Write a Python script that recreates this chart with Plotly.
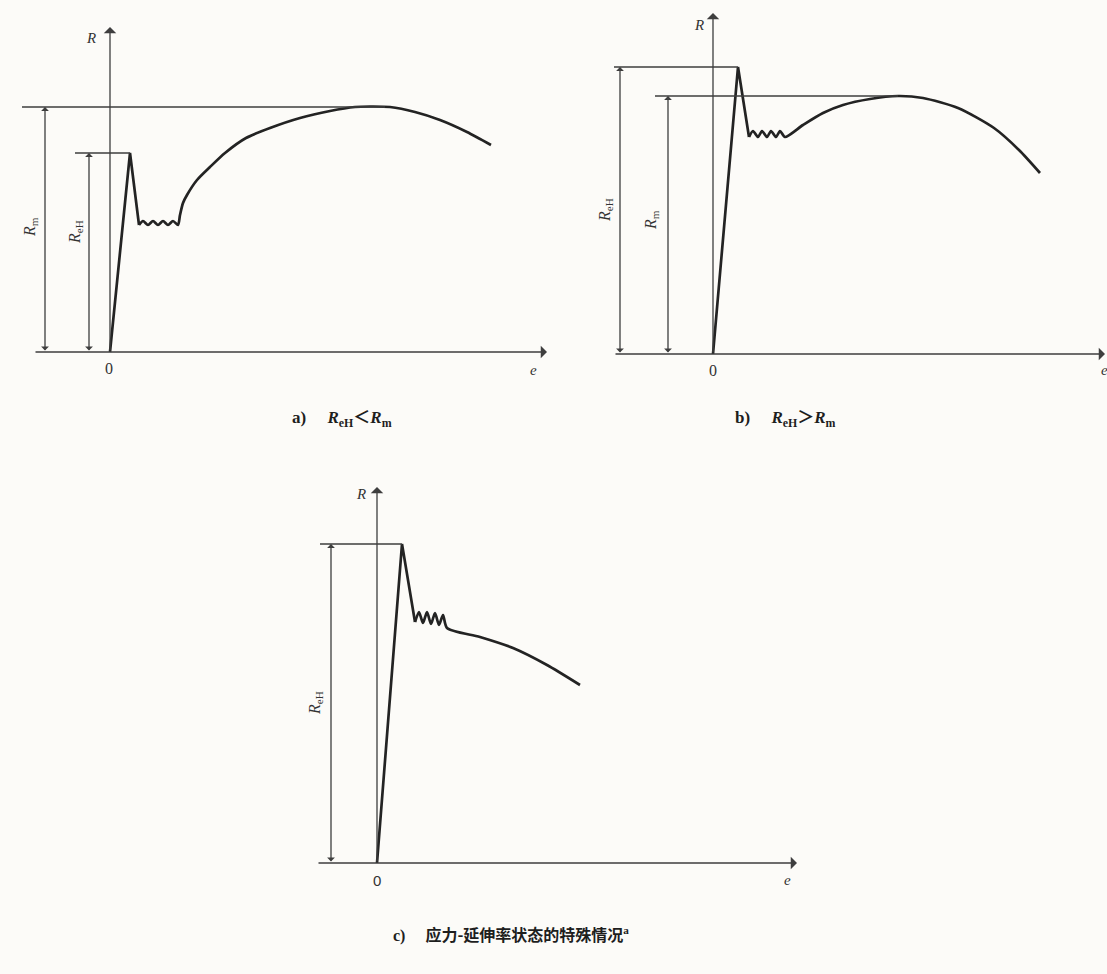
import plotly.graph_objects as go

W, H = 1107, 974
LINE = "#3e3e3e"
CURVE = "#232323"
SERIF = "Liberation Serif, Times New Roman, serif"
CJK = "Noto Sans CJK SC, sans-serif"

# ---------------- data: strain e vs. stress R (schematic units) ----------------
# a) R_eH < R_m : upper yield point, yield plateau, work hardening to R_m
a_e = [0, 20, 29, 33, 38, 43, 48, 53, 58, 63, 68, 70, 73, 77, 87, 100, 115, 136,
       160, 190, 220, 245, 260, 280, 305, 330, 357, 381]
a_R = [0, 199, 127, 131, 127, 131, 127, 131, 127, 131, 127, 137, 149, 157, 172, 185,
       199, 214, 224, 234, 241, 245, 245.5, 245, 240, 232, 220, 207]
a_ReH, a_Rm = 199, 245

# b) R_eH > R_m
b_e = [0, 25, 36, 40, 45, 49, 54, 58, 63, 67, 72, 90, 110, 130, 157, 185, 210,
       245, 281, 306, 327]
b_R = [0, 287, 217, 223, 217, 223, 217, 223, 217, 223, 217, 229, 241, 249, 255,
       258, 256, 246, 226, 204, 181]
b_ReH, b_Rm = 287, 258

# c) special case: no work-hardening maximum
c_e = [0, 25, 38, 42, 46, 50, 54, 58, 62, 66, 70, 103, 136, 170, 203]
c_R = [0, 319, 241, 251, 240, 251, 239, 250, 238, 248, 235, 226, 215, 198, 178]
c_ReH = 319

N_ELASTIC = 3  # loading line + drop after upper yield point are straight

fig = go.Figure()


def axes_names(i):
    return ("x" if i == 1 else f"x{i}"), ("y" if i == 1 else f"y{i}")


def setup_axes(i, origin, box):
    ox, oy = origin
    px0, px1, py0, py1 = box
    xr, yr = axes_names(i)
    common = dict(visible=False, fixedrange=True, showgrid=False, zeroline=False)
    fig.layout["xaxis" if i == 1 else f"xaxis{i}"] = dict(
        domain=[px0 / W, px1 / W], range=[px0 - ox, px1 - ox], anchor=yr, **common)
    fig.layout["yaxis" if i == 1 else f"yaxis{i}"] = dict(
        domain=[1 - py1 / H, 1 - py0 / H], range=[oy - py1, oy - py0], anchor=xr, **common)
    return xr, yr


def arrow(xr, yr, x0, y0, x1, y1, both=False, size=1.0):
    a = dict(x=x1, y=y1, ax=x0, ay=y0, xref=xr, yref=yr, axref=xr, ayref=yr,
             text="", showarrow=True, arrowhead=1, arrowsize=size, arrowwidth=1.3,
             arrowcolor=LINE, standoff=0)
    if both:
        a.update(arrowside="end+start", startarrowhead=1, startarrowsize=size,
                 startstandoff=0)
    fig.add_annotation(**a)


def label(xr, yr, x, y, text, size=15, angle=0, family=SERIF):
    fig.add_annotation(x=x, y=y, xref=xr, yref=yr, text=text, showarrow=False,
                       textangle=angle, font=dict(family=family, size=size, color="#333"))


def hline(xr, yr, x0, x1, y):
    fig.add_shape(type="line", xref=xr, yref=yr, x0=x0, x1=x1, y0=y, y1=y,
                  line=dict(color=LINE, width=1.3))


def curve(xr, yr, e, R):
    fig.add_trace(go.Scatter(x=e[:N_ELASTIC], y=R[:N_ELASTIC], xaxis=xr, yaxis=yr,
                             mode="lines", line=dict(color=CURVE, width=2.7),
                             hoverinfo="skip", showlegend=False))
    fig.add_trace(go.Scatter(x=e[N_ELASTIC - 1:], y=R[N_ELASTIC - 1:], xaxis=xr, yaxis=yr,
                             mode="lines", line=dict(color=CURVE, width=2.7, shape="spline",
                                                     smoothing=0.7),
                             hoverinfo="skip", showlegend=False))


RLAB = lambda sub: f"<i>R</i><sub>{sub}</sub>"

# ---------------- panel a ----------------
xr, yr = setup_axes(1, (110, 352), (0, 555, 0, 395))
hline(xr, yr, -88, 275, a_Rm)
hline(xr, yr, -35, 20, a_ReH)
arrow(xr, yr, -76, 0, 437, 0, size=1.6)
arrow(xr, yr, 0, 0, 0, 325, size=1.6)
arrow(xr, yr, -65, 0, -65, a_Rm, both=True)
arrow(xr, yr, -21, 0, -21, a_ReH, both=True)
curve(xr, yr, a_e, a_R)
label(xr, yr, -19, 314, "<i>R</i>")
label(xr, yr, -1, -16, "0", 16)
label(xr, yr, 423, -18, "<i>e</i>")
label(xr, yr, -80, 125, RLAB("m"), 16, -90)
label(xr, yr, -35, 120, RLAB("eH"), 16, -90)

# ---------------- panel b ----------------
xr, yr = setup_axes(2, (713, 354), (555, 1107, 0, 395))
hline(xr, yr, -99, 25, b_ReH)
hline(xr, yr, -58, 185, b_Rm)
arrow(xr, yr, -99, 0, 392, 0, size=1.6)
arrow(xr, yr, 0, 0, 0, 341, size=1.6)
arrow(xr, yr, -93, 0, -93, b_ReH, both=True)
arrow(xr, yr, -45, 0, -45, b_Rm, both=True)
curve(xr, yr, b_e, b_R)
label(xr, yr, -14, 329, "<i>R</i>")
label(xr, yr, 0, -16, "0", 16)
label(xr, yr, 391, -16, "<i>e</i>")
label(xr, yr, -108, 144, RLAB("eH"), 16, -90)
label(xr, yr, -62, 134, RLAB("m"), 16, -90)

# ---------------- panel c ----------------
xr, yr = setup_axes(3, (377, 863), (280, 840, 440, 915))
hline(xr, yr, -57, 25, c_ReH)
arrow(xr, yr, -60, 0, 420, 0, size=1.6)
arrow(xr, yr, 0, 0, 0, 376, size=1.6)
arrow(xr, yr, -46, 0, -46, c_ReH, both=True)
curve(xr, yr, c_e, c_R)
label(xr, yr, -16, 369, "<i>R</i>")
label(xr, yr, 0, -17, "0", 15, family="Liberation Sans, Arial, sans-serif")
label(xr, yr, 410, -17, "<i>e</i>")
label(xr, yr, -62, 160, RLAB("eH"), 16, -90)

# ---------------- captions ----------------
def caption(px, py, text, size=17, family=SERIF):
    fig.add_annotation(x=px / W, y=1 - py / H, xref="paper", yref="paper", text=text,
                       showarrow=False, font=dict(family=family, size=size, color="#1e1e1e"))


def rel(sym):
    return f"<span style='font-family:{CJK}'>{sym}</span>"


caption(290, 416, f"<b>a)　 <i>R</i><sub>eH</sub>{rel('＜')}<i>R</i><sub>m</sub></b>")
caption(838, 416, f"<b>b)　 <i>R</i><sub>eH</sub>{rel('＞')}<i>R</i><sub>m</sub></b>")
caption(511, 948,
        f"<b>c)　 <span style='font-family:{CJK}'>应力-延伸率状态的特殊情况</span><sup>a</sup></b>",
        16)

fig.update_layout(width=W, height=H, margin=dict(l=0, r=0, t=0, b=0),
                  paper_bgcolor="#fcfbf8", plot_bgcolor="rgba(0,0,0,0)",
                  showlegend=False)

fig.write_html("out.html")
